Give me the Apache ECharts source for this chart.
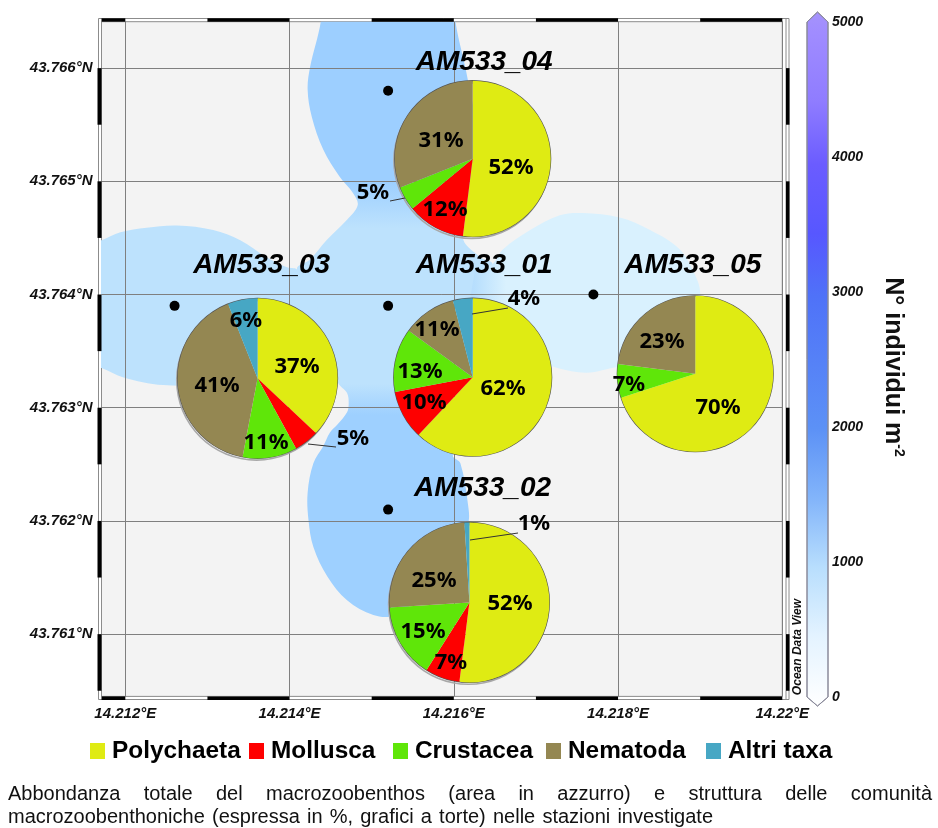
<!DOCTYPE html>
<html><head><meta charset="utf-8">
<style>html,body{margin:0;padding:0;background:#fff}#c{width:938px;height:828px}</style>
<script src="https://cdn.jsdelivr.net/npm/echarts@6/dist/echarts.min.js"></script>
</head><body><div id="c"></div>
<script>
// ---------- data ----------
const lonTicks = [14.212, 14.214, 14.216, 14.218, 14.22];
const latTicks = [43.761, 43.762, 43.763, 43.764, 43.765, 43.766];
const LON_MIN = 14.21171, LON_MAX = 14.22, LAT_MIN = 43.76045, LAT_MAX = 43.76641;
const taxa = ['Polychaeta', 'Mollusca', 'Crustacea', 'Nematoda', 'Altri taxa'];
const stationNames = ['AM533_01', 'AM533_02', 'AM533_03', 'AM533_04', 'AM533_05'];
const stationLon = [14.2152, 14.2152, 14.2126, 14.2152, 14.2177];
const stationLat = [43.7639, 43.7621, 43.7639, 43.7658, 43.7640];
const pieLon = [14.21623, 14.21619, 14.21361, 14.21623, 14.21894];
const pieLat = [43.76327, 43.76128, 43.76326, 43.76520, 43.76330];
const titleLon = [14.21637, 14.21635, 14.21366, 14.21637, 14.21891];
const titleLat = [43.76426, 43.76229, 43.76426, 43.76605, 43.76426];
const share01 = [62, 10, 13, 11, 4];
const share02 = [52, 7, 15, 25, 1];
const share03 = [37, 5, 11, 41, 6];
const share04 = [52, 12, 5, 31, 0];
const share05 = [70, 0, 7, 23, 0];
const colorbarTicks = [0, 1000, 2000, 3000, 4000, 5000];
// outlines of the gridded abundance field, [lon, lat]
const fieldMain = [[14.21438,43.76660],[14.21438,43.76641],[14.21425,43.76601],[14.21422,43.76581],[14.21427,43.76557],[14.21441,43.76528],[14.21461,43.76504],[14.21477,43.76490],[14.21483,43.76479],[14.21470,43.76466],[14.21445,43.76448],[14.21425,43.76431],[14.21409,43.76422],[14.21459,43.76322],[14.21470,43.76313],[14.21472,43.76304],[14.21470,43.76296],[14.21458,43.76285],[14.21449,43.76278],[14.21441,43.76266],[14.21429,43.76251],[14.21422,43.76225],[14.21423,43.76201],[14.21429,43.76177],[14.21446,43.76151],[14.21470,43.76130],[14.21502,43.76117],[14.21528,43.76117],[14.21583,43.76148],[14.21617,43.76197],[14.21617,43.76216],[14.21608,43.76251],[14.21599,43.76258],[14.21632,43.76289],[14.21632,43.76395],[14.21647,43.76427],[14.21632,43.76433],[14.21611,43.76451],[14.21632,43.76519],[14.21617,43.76590],[14.21602,43.76641],[14.21602,43.76660]];
const fieldLeft = [[14.21150,43.76445],[14.21171,43.76448],[14.21194,43.76455],[14.21226,43.76459],[14.21263,43.76461],[14.21307,43.76457],[14.21340,43.76448],[14.21372,43.76433],[14.21397,43.76424],[14.21409,43.76422],[14.21425,43.76404],[14.21459,43.76322],[14.21360,43.76320],[14.21246,43.76320],[14.21197,43.76327],[14.21171,43.76335],[14.21150,43.76340]];
const fieldRight = [[14.21626,43.76342],[14.21626,43.76422],[14.21647,43.76427],[14.21660,43.76440],[14.21693,43.76457],[14.21729,43.76470],[14.21757,43.76472],[14.21802,43.76468],[14.21839,43.76457],[14.21875,43.76440],[14.21894,43.76417],[14.21900,43.76402],[14.21900,43.76331],[14.21827,43.76338],[14.21799,43.76336],[14.21762,43.76331],[14.21726,43.76335],[14.21705,43.76341]];
const lonBands = [[14.21171,14.212],[14.213,14.214],[14.215,14.216],[14.217,14.218],[14.219,14.22]];
const latBands = [[43.7655,43.766],[43.7645,43.765],[43.7635,43.764],[43.7625,43.763],[43.7615,43.762],[43.7605,43.761]];
const captionLines = ['Abbondanza totale del macrozoobenthos (area in azzurro) e struttura delle comunità',
                      'macrozoobenthoniche (espressa in %, grafici a torte) nelle stazioni investigate'];

// ---------- styling ----------
const taxaColors = ['#dfeb13', '#fe0000', '#5fe609', '#948752', '#47a7c4'];
const legendLeft = [90, 249, 393, 546, 706];
const labelPx = {
  AM533_01: [[503,389],[424,403],[420,372],[437,330],[524,299]],
  AM533_02: [[510,604],[451,663],[423,632],[434,581],[534,524]],
  AM533_03: [[297,367],[353,439],[266,443],[217,386],[246,321]],
  AM533_04: [[511,168],[445,210],[373,193],[441,141],null],
  AM533_05: [[718,408],null,[629,385],[662,342],null]
};
const pieRadius = [79, 80, 80, 78, 78];
const pieShadow = [false, true, true, true, false];
const shares = [share01, share02, share03, share04, share05];
const leaders = [[[390,201],[405,198]],[[472,314],[508,308]],[[308,444],[336,447]],[[470,540],[518,533]]];
const AXFONT = {fontFamily:'Liberation Sans', fontStyle:'italic', fontWeight:'bold', color:'#111'};

const chart = echarts.init(document.getElementById('c'), null, {renderer:'canvas'});

function polySeries(outline, fill, z, smooth) {
  return {type:'custom', coordinateSystem:'cartesian2d', xAxisIndex:0, yAxisIndex:0, silent:true, z, clip:true,
    data:[[outline[0][0], outline[0][1]]],
    renderItem:(p, api) => ({type:'polygon', shape:{points:outline.map(q => api.coord(q)), smooth}, style:{fill}})};
}
const mainFill = new echarts.graphic.LinearGradient(0,0,0,1,[
  {offset:0,color:'#9dcfff'},{offset:.30,color:'#9dcfff'},{offset:.375,color:'#bde2fd'},
  {offset:.625,color:'#bde2fd'},{offset:.675,color:'#9ed0ff'},{offset:1,color:'#9ed0ff'}]);
const rightFill = new echarts.graphic.LinearGradient(0,0,1,0,[
  {offset:0,color:'#b4dcfe'},{offset:.03,color:'#b8dffd'},{offset:.16,color:'#d9f1fe'},{offset:1,color:'#d9f1fe'}]);
const barFill = new echarts.graphic.LinearGradient(0,0,0,1,[
  {offset:0,color:'#a593fb'},{offset:.03,color:'#a08cff'},{offset:.13,color:'#8f7cff'},{offset:.22,color:'#6b5cff'},
  {offset:.32,color:'#5757ff'},{offset:.41,color:'#4f72f8'},{offset:.60,color:'#5c91f6'},{offset:.70,color:'#82b4fa'},
  {offset:.80,color:'#b8defd'},{offset:.90,color:'#e4f3ff'},{offset:1,color:'#ffffff'}]);

const bandSeries = {type:'custom', coordinateSystem:'cartesian2d', xAxisIndex:0, yAxisIndex:0, silent:true, z:4, clip:false,
  data:lonBands.map((b,i)=>[b[0],b[1],0]).concat(latBands.map(b=>[b[0],b[1],1])),
  renderItem:(p, api) => {
    const a = api.value(0), b = api.value(1), c = p.coordSys, kids = [];
    const fill = {fill:'#000'};
    if (api.value(2) === 0) {
      const x0 = api.coord([a, LAT_MIN])[0], x1 = api.coord([b, LAT_MIN])[0];
      kids.push({type:'rect', shape:{x:x0, y:c.y-3.4, width:x1-x0, height:3.4}, style:fill});
      kids.push({type:'rect', shape:{x:x0, y:c.y+c.height, width:x1-x0, height:3.6}, style:fill});
    } else {
      const y0 = api.coord([LON_MIN, b])[1], y1 = api.coord([LON_MIN, a])[1];
      kids.push({type:'rect', shape:{x:c.x-4, y:y0, width:4, height:y1-y0}, style:fill});
      kids.push({type:'rect', shape:{x:c.x+c.width+3.7, y:y0, width:3.5, height:y1-y0}, style:fill});
    }
    return {type:'group', children:kids};
  }};

const barSeries = {type:'custom', coordinateSystem:'cartesian2d', xAxisIndex:1, yAxisIndex:1, silent:true, z:2, clip:false,
  data:[[0, colorbarTicks[0], colorbarTicks[colorbarTicks.length-1]]],
  renderItem:(p, api) => {
    const c = p.coordSys, bot = api.coord([0, api.value(1)])[1], top = api.coord([0, api.value(2)])[1];
    const l = c.x, r = c.x + c.width, m = (l + r) / 2;
    return {type:'polygon', shape:{points:[[l,top],[m,top-10],[r,top],[r,bot],[m,bot+9],[l,bot]]},
      style:{fill:barFill, stroke:'#8a8a9a', lineWidth:1}};
  }};

// caption with justified first line, as the original has
const meas = document.createElement('canvas').getContext('2d');
const CAP = '20px "Liberation Sans"';
meas.font = CAP;
function captionWords(text, y, x0, x1) {
  const words = text.split(' ');
  const w = words.map(t => meas.measureText(t).width);
  const sum = w.reduce((a,b)=>a+b,0);
  const gap = (x1 - x0 - sum) / (words.length - 1);
  let x = x0;
  return words.map((t,i) => { const e = {type:'text', x, y, silent:true,
    style:{text:t, font:CAP, fill:'#111', textVerticalAlign:'middle'}}; x += w[i] + gap; return e; });
}

const graphic = [
  {type:'rect', shape:{x:98.5,y:18.5,width:690.5,height:681}, style:{fill:'none',stroke:'#8c8c8c',lineWidth:1}, z:1, silent:true},
  {type:'line', shape:{x1:786,y1:18.5,x2:786,y2:699.5}, style:{stroke:'#8c8c8c',lineWidth:1}, z:1, silent:true},
  {type:'text', x:798, y:647, rotation:Math.PI/2, silent:true,
    style:{text:'Ocean Data View', font:'italic bold 12px "Liberation Sans"', fill:'#111', textAlign:'center', textVerticalAlign:'middle'}},
  {type:'text', x:893, y:367, rotation:-Math.PI/2, silent:true,
    style:{text:'N° individui m{s|-2}', font:'bold 25px "Liberation Sans"', fill:'#111', textAlign:'center', textVerticalAlign:'middle',
      rich:{s:{font:'bold 14px "Liberation Sans"', fill:'#111', padding:[0,0,12,0]}}}},
  ...leaders.map(l => ({type:'line', shape:{x1:l[0][0],y1:l[0][1],x2:l[1][0],y2:l[1][1]}, style:{stroke:'#333',lineWidth:1}, z:7, silent:true})),
  ...captionWords(captionLines[0], 794, 8, 932),
  ...captionWords(captionLines[1], 817, 8, 713)
];

const option = {
  animation:false,
  backgroundColor:'#fff',
  legend:taxa.map((t,i)=>({data:[t], left:legendLeft[i], top:739, padding:0, icon:'rect', itemWidth:15, itemHeight:16, selectedMode:false,
    itemStyle:{borderWidth:0},
    textStyle:{fontFamily:'Liberation Sans', fontWeight:'bold', fontSize:24.4, color:'#000', padding:[0,0,0,2]}})),
  grid:[
    {left:101.5, top:21.7, width:680.8, height:674.7, show:true, backgroundColor:'#f3f3f3', borderColor:'#8c8c8c', borderWidth:1, containLabel:false},
    {left:807, top:22, width:21, height:675, show:false}
  ],
  xAxis:[
    {type:'value', gridIndex:0, min:LON_MIN, max:LON_MAX, z:3, axisLine:{show:false},
      axisTick:{show:false, customValues:lonTicks},
      axisLabel:{customValues:lonTicks, margin:10, fontSize:15, ...AXFONT, formatter:v=>v+'°E'},
      splitLine:{show:true, lineStyle:{color:'#7f7f7f', width:1}}},
    {type:'value', gridIndex:1, min:0, max:1, show:false}
  ],
  yAxis:[
    {type:'value', gridIndex:0, min:LAT_MIN, max:LAT_MAX, z:3, axisLine:{show:false},
      axisTick:{show:false, customValues:latTicks},
      axisLabel:{customValues:latTicks, margin:9, fontSize:15, ...AXFONT, formatter:v=>v+'°N'},
      splitLine:{show:true, lineStyle:{color:'#7f7f7f', width:1}}},
    {type:'value', gridIndex:1, min:0, max:5000, interval:1000, position:'right', axisLine:{show:false}, axisTick:{show:false},
      splitLine:{show:false}, axisLabel:{margin:4, fontSize:14, ...AXFONT, formatter:v=>String(v)}}
  ],
  graphic:{elements:graphic},
  series:[
    polySeries(fieldMain, mainFill, 1, 0.35),
    polySeries(fieldLeft, '#bde2fd', 1, 0.35),
    polySeries(fieldRight, rightFill, 1, 0.35),
    bandSeries,
    barSeries,
    {type:'scatter', name:'Stazioni', xAxisIndex:0, yAxisIndex:0, z:5, symbolSize:10, silent:true,
      itemStyle:{color:'#000', opacity:1}, data:stationLon.map((v,i)=>[v, stationLat[i]])},
    {type:'scatter', name:'Titoli', xAxisIndex:0, yAxisIndex:0, z:6, symbolSize:0, silent:true,
      itemStyle:{opacity:1},
      data:titleLon.map((v,i)=>({value:[v, titleLat[i]], name:stationNames[i]})),
      label:{show:true, position:'inside', formatter:'{b}', fontFamily:'Liberation Sans', fontStyle:'italic', fontWeight:'bold', fontSize:28, color:'#000', opacity:1}}
  ]
};
chart.setOption(option);

stationNames.forEach((name, s) => {
  const c = chart.convertToPixel({gridIndex:0}, [pieLon[s], pieLat[s]]);
  const rows = shares[s].map((v,i)=>({v,i})).filter(o=>o.v>0);
  // thin outline round each pie, with the faint offset shade some of them have
  option.series.push({
    type:'pie', name:name+' outline', z:5, silent:true, center:c, radius:[pieRadius[s]-1, pieRadius[s]+0.6], label:{show:false}, labelLine:{show:false},
    data:[{name:'outline', value:1, itemStyle:{color:'#555',
      shadowColor:pieShadow[s]?'#a8a8a8':'transparent', shadowBlur:0, shadowOffsetX:-1, shadowOffsetY:2}}]
  });
  option.series.push({
    type:'pie', name, z:5, silent:true, center:c, radius:pieRadius[s], startAngle:90, clockwise:true, avoidLabelOverlap:false,
    data:rows.map(o=>({name:taxa[o.i], value:o.v, itemStyle:{color:taxaColors[o.i]}})),
    itemStyle:{borderWidth:0},
    label:{show:true, position:'inside', formatter:'{c}%', fontFamily:'Noto Sans', fontWeight:'bold', fontSize:22, color:'#000'},
    labelLine:{show:false},
    labelLayout:p => { const q = labelPx[name][rows[p.dataIndex].i]; return {x:q[0], y:q[1], align:'center', verticalAlign:'middle'}; }
  });
});
chart.setOption(option);
</script></body></html>
